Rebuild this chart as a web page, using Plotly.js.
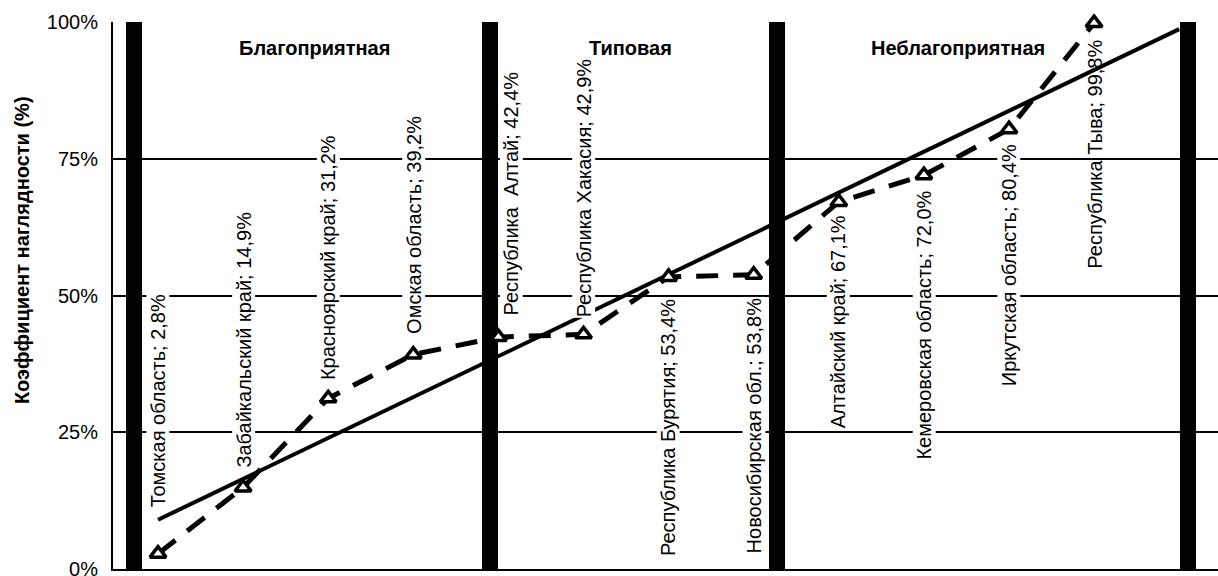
<!DOCTYPE html>
<html>
<head>
<meta charset="utf-8">
<script src="https://cdn.plot.ly/plotly-3.0.1.min.js"></script>
<style>html,body{margin:0;padding:0;background:#fff;}#chart{width:1218px;height:576px;}</style>
</head>
<body>
<div id="chart"></div>
<script>
// ---- data ----
const regions = ['Томская область', 'Забайкальский край', 'Красноярский край', 'Омская область',
  'Республика  Алтай', 'Республика Хакасия', 'Республика Бурятия', 'Новосибирская обл.',
  'Алтайский край', 'Кемеровская область', 'Иркутская область', 'Республика Тыва'];
const coefficient = [2.8, 14.9, 31.2, 39.2, 42.4, 42.9, 53.4, 53.8, 67.1, 72.0, 80.4, 99.8];
const zoneBorderX = [-0.28, 3.90, 7.27, 12.10];
const zoneBorderY = [100, 100, 100, 100];
const zoneNames = ['Благоприятная', 'Типовая', 'Неблагоприятная'];
const trendX = [0, 12];
const trendY = [9.0, 98.7];
const yTicks = [0, 25, 50, 75, 100];
const yTickText = ['0%', '25%', '50%', '75%', '100%'];
const yTitle = 'Коэффициент наглядности (%)';

// ---- layout settings (positions / styles) ----
const FONT = 'Liberation Sans, Arial, sans-serif';
const labelGap = [45, 19, 17, 20, 21, 16, 21, 22, 12, 14, 14, 16];
const labelXShift = [0, 0, 0, 0, 13, 0, 0, 0, 0, 0, 0, 0];
const zoneTitleX = [1.833, 5.558, 9.40];

const xIdx = regions.map((_, i) => i);

const traces = [
  {
    type: 'bar', x: zoneBorderX, y: zoneBorderY, width: 0.185,
    marker: {color: '#000', line: {width: 0}}, hoverinfo: 'skip', showlegend: false
  },
  {
    type: 'scatter', mode: 'lines', x: trendX, y: trendY,
    line: {color: '#000', width: 4}, hoverinfo: 'skip', showlegend: false
  },
  {
    type: 'scatter', mode: 'lines+markers', x: xIdx, y: coefficient, cliponaxis: false,
    line: {color: '#000', width: 5, dash: '22px,15px'},
    marker: {symbol: 'triangle-up', size: 14, color: '#fff', line: {color: '#000', width: 3.5}},
    showlegend: false
  }
];

const annotations = [];
regions.forEach((name, i) => {
  const above = i < 6;
  annotations.push({
    x: xIdx[i], y: coefficient[i], xref: 'x', yref: 'y',
    text: name + '; ' + coefficient[i].toFixed(1).replace('.', ',') + '%',
    textangle: -90, showarrow: false,
    xanchor: 'center', yanchor: above ? 'bottom' : 'top',
    xshift: labelXShift[i],
    yshift: above ? labelGap[i] : -labelGap[i],
    bgcolor: i === 11 ? 'rgba(0,0,0,0)' : '#fff', borderpad: 0,
    font: {family: FONT, size: 20, color: '#000'}
  });
});
zoneNames.forEach((z, i) => {
  annotations.push({
    x: zoneTitleX[i], y: 95.2, xref: 'x', yref: 'y', text: '<b>' + z + '</b>',
    showarrow: false, xanchor: 'center', yanchor: 'middle',
    font: {family: FONT, size: 20, color: '#000'}
  });
});
annotations.push({
  x: (22 - 113) / (1218 - 113), xref: 'paper', y: 0.583, yref: 'paper', text: '<b>' + yTitle + '</b>',
  textangle: -90, showarrow: false, xanchor: 'center', yanchor: 'middle',
  font: {family: FONT, size: 20, color: '#000'}
});

const layout = {
  width: 1218, height: 576,
  margin: {l: 113, r: 0, t: 22, b: 7, pad: 0},
  paper_bgcolor: '#fff', plot_bgcolor: '#fff',
  showlegend: false,
  xaxis: {
    range: [-0.529, 12.456], showgrid: false, zeroline: false,
    showticklabels: false, ticks: '', showline: true, linecolor: '#000', linewidth: 2,
    fixedrange: true
  },
  yaxis: {
    range: [0, 100], tickvals: yTicks, ticktext: yTickText,
    showgrid: true, gridcolor: '#000', gridwidth: 2, zeroline: false,
    showline: true, linecolor: '#000', linewidth: 2, ticks: '',
    ticklabelstandoff: 9, ticklabeloverflow: 'allow', automargin: false,
    tickfont: {family: FONT, size: 20, color: '#000'}, fixedrange: true
  },
  annotations: annotations,
  bargap: 0
};

Plotly.newPlot('chart', traces, layout, {displayModeBar: false, staticPlot: true});
</script>
</body>
</html>
